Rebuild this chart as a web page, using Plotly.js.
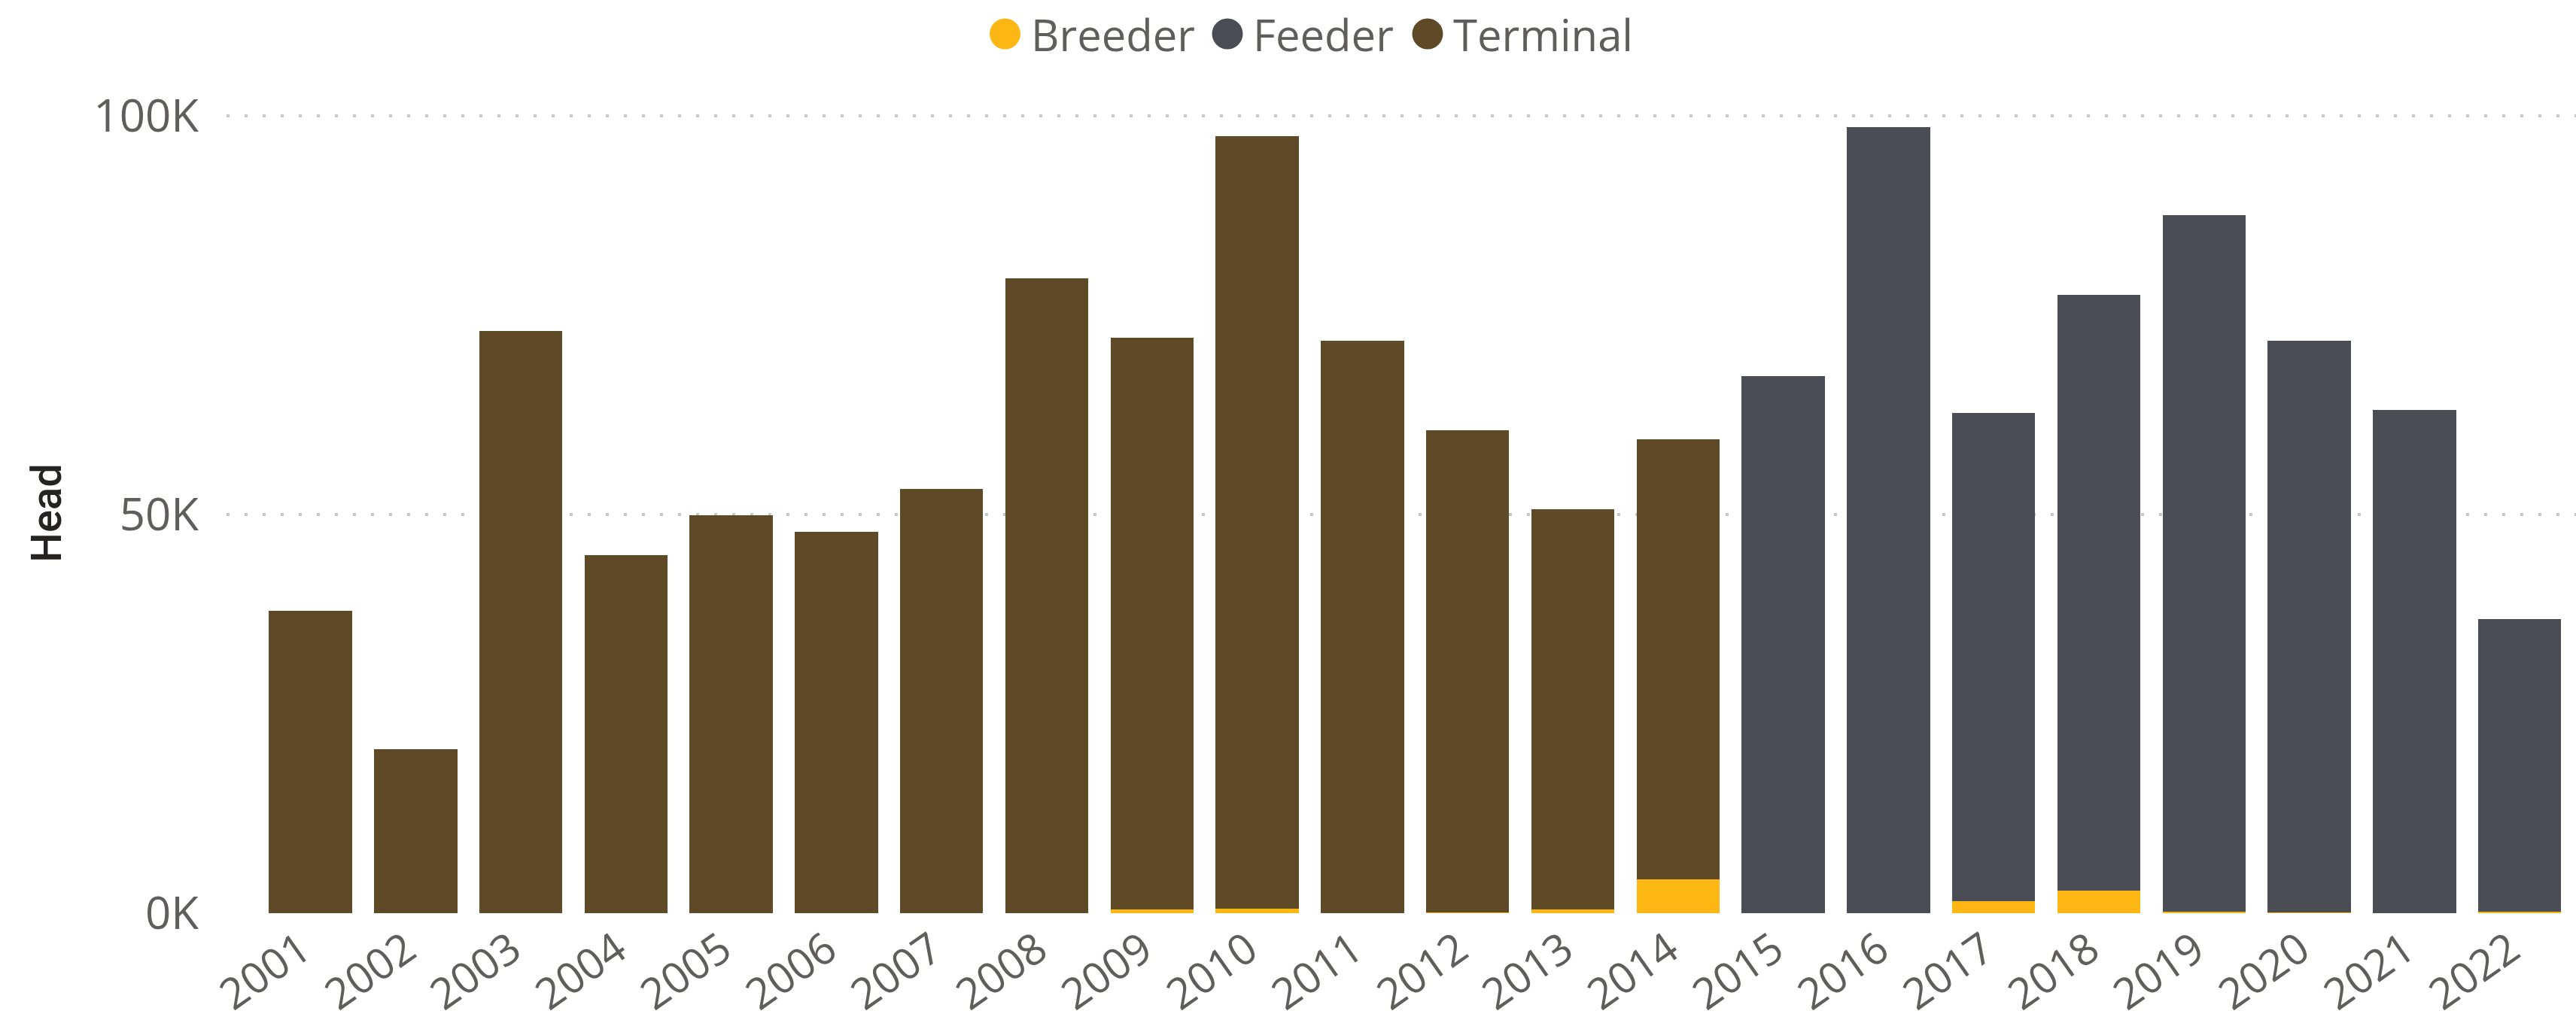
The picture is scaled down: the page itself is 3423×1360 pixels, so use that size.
<!DOCTYPE html>
<html>
<head>
<meta charset="utf-8">
<script src="https://cdn.plot.ly/plotly-3.0.1.min.js"></script>
<style>
html,body{margin:0;padding:0;background:#ffffff;}
#chart{width:3423px;height:1360px;}
</style>
</head>
<body>
<div id="chart"></div>
<script>
// ---- data ----
const years = ['2001','2002','2003','2004','2005','2006','2007','2008','2009','2010','2011',
               '2012','2013','2014','2015','2016','2017','2018','2019','2020','2021','2022'];
const breeder  = [null,null,null,null,null,null,null,null,470,570,null,
                  100,500,4250,null,null,1550,2830,190,100,null,190];
const feeder   = [null,null,null,null,null,null,null,null,null,null,null,
                  null,null,null,67400,98600,61200,74700,87400,71700,63100,36700];
const terminal = [37900,20600,73000,44900,49900,47800,53200,79600,71700,96900,71800,
                  60500,50200,55200,null,null,null,null,null,null,null,null];
const seriesNames = ['Breeder','Feeder','Terminal'];
const yTickVals = [0, 50000, 100000];
const yTickText = ['0K', '50K', '100K'];
const yTitle = 'Head';

// ---- styles ----
const colors = {Breeder:'#FDB714', Feeder:'#4A4E54', Terminal:'#5E4A26'};
const textColor = '#605E5C';
const W = 3423, H = 1360;
const M = {l:301, r:0, t:150, b:146};
const plotW = W - M.l - M.r, plotH = H - M.t - M.b;
const px2x = p => (p - M.l) / plotW;
const py2y = p => 1 + (M.t - p) / plotH;

const seriesValues = {Breeder: breeder, Feeder: feeder, Terminal: terminal};
const traces = seriesNames.map(n => ({
  type:'bar', name:n, x:years, y:seriesValues[n],
  marker:{color:colors[n], line:{width:0}},
  showlegend:false, hoverinfo:'x+y+name'
}));

// custom legend (circle markers + labels) positioned like the reference
const legendCircleCenters = [1335.5, 1631, 1897];
const legendTextStarts = [1368, 1663, 1929];
const legendY = 45;
const R = 20.5;
const shapes = seriesNames.map((n,i) => ({
  type:'circle', xref:'paper', yref:'paper',
  xsizemode:'pixel', ysizemode:'pixel',
  xanchor:px2x(legendCircleCenters[i]), yanchor:py2y(legendY),
  x0:-R, x1:R, y0:-R, y1:R,
  fillcolor:colors[n], line:{width:0}
}));
const annotations = seriesNames.map((n,i) => ({
  xref:'paper', yref:'paper', x:px2x(legendTextStarts[i]), y:py2y(legendY+1),
  xanchor:'left', yanchor:'middle', showarrow:false, text:n,
  font:{family:'Open Sans, sans-serif', size:58, color:textColor}
}));

const layout = {
  width:W, height:H,
  margin:M,
  paper_bgcolor:'#ffffff', plot_bgcolor:'#ffffff',
  barmode:'stack', bargap:0.21,
  showlegend:false,
  font:{family:'Open Sans, sans-serif', color:textColor},
  xaxis:{
    type:'category', range:[-0.7976, 21.535], fixedrange:true,
    showgrid:false, zeroline:false, showline:false, ticks:'',
    tickangle:-35, automargin:false,
    ticklabelstandoff:3, ticklabelshift:-12,
    tickfont:{family:'Open Sans, sans-serif', size:57, color:textColor}
  },
  yaxis:{
    range:[0, 100400], automargin:false,
    tickvals:yTickVals, ticktext:yTickText,
    showgrid:true, gridcolor:'#C8C8C8', gridwidth:4, griddash:'4px,20px',
    zeroline:false, showline:false, ticks:'', ticklabelstandoff:36,
    tickfont:{family:'Open Sans, sans-serif', size:60, color:textColor},
    title:{text:yTitle, standoff:24,
           font:{family:'Roboto, sans-serif', size:56, color:'#252423', weight:500}}
  },
  shapes:shapes,
  annotations:annotations
};

Plotly.newPlot('chart', traces, layout, {staticPlot:true, displayModeBar:false});
</script>
</body>
</html>
